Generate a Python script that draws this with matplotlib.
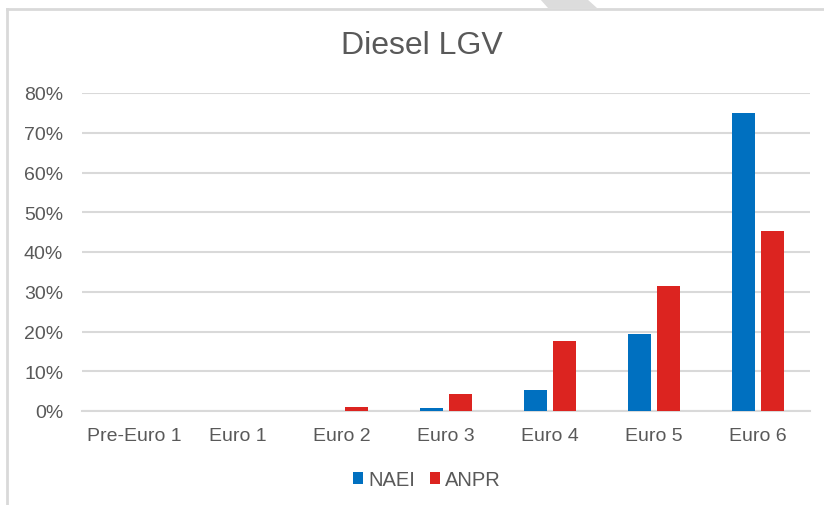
import numpy as np
import matplotlib.pyplot as plt
from matplotlib.lines import Line2D
from matplotlib.patches import Polygon


# --------------------------------------------------
# Data
# --------------------------------------------------

categories = ["Pre-Euro 1", "Euro 1", "Euro 2", "Euro 3", "Euro 4", "Euro 5", "Euro 6"]

naei = [0.0, 0.0, 0.0005, 0.0075, 0.053, 0.194, 0.750]
anpr = [0.0, 0.0, 0.010, 0.044, 0.177, 0.315, 0.452]

y_ticks = [0.0, 0.1, 0.2, 0.3, 0.4, 0.5, 0.6, 0.7, 0.8]
y_tick_labels = ["0%", "10%", "20%", "30%", "40%", "50%", "60%", "70%", "80%"]


# --------------------------------------------------
# Style
# --------------------------------------------------

plt.rcParams["font.family"] = ["Liberation Sans", "DejaVu Sans"]

text_grey = "#595959"
grid_grey = "#D9D9D9"
blue = "#0070C0"
red = "#DC2420"

W, H = 824, 506

fig = plt.figure(figsize=(W / 100, H / 100), dpi=100)

ax = fig.add_axes([
    82 / W,
    1 - 412 / H,
    (810 - 82) / W,
    (412 - 94) / H
])

x = np.arange(len(categories))
bar_w = 0.22
gap = 0.06

ax.bar(
    x - (bar_w + gap) / 2,
    naei,
    width=bar_w,
    color=blue,
    label="NAEI",
    zorder=3
)

ax.bar(
    x + (bar_w + gap) / 2,
    anpr,
    width=bar_w,
    color=red,
    label="ANPR",
    zorder=3
)

ax.set_xlim(-0.5, len(categories) - 0.5)
ax.set_ylim(0, 0.8)

ax.set_yticks(y_ticks)
ax.set_yticklabels(y_tick_labels)
ax.set_xticks(x)
ax.set_xticklabels(categories)

ax.tick_params(axis="y", length=0, pad=13.5, labelsize=14, labelcolor=text_grey)
ax.tick_params(axis="x", length=0, pad=11.5, labelsize=14, labelcolor=text_grey)

ax.grid(axis="y", color=grid_grey, linewidth=1.5, zorder=0)

for side in ["top", "right", "left"]:
    ax.spines[side].set_visible(False)

ax.spines["bottom"].set_color(grid_grey)
ax.spines["bottom"].set_linewidth(1.5)
ax.spines["bottom"].set_zorder(1)

# --------------------------------------------------
# Title and legend
# --------------------------------------------------

fig.text(
    422 / W,
    1 - 46 / H,
    "Diesel LGV",
    ha="center",
    va="center",
    fontsize=23,
    color=text_grey
)

fig.legend(
    loc="center",
    bbox_to_anchor=(427 / W, 1 - 481 / H),
    ncol=2,
    frameon=False,
    fontsize=14.5,
    handlelength=0.5,
    handleheight=0.55,
    handletextpad=0.25,
    columnspacing=0.75,
    borderpad=0.2,
    labelcolor=text_grey
)

# --------------------------------------------------
# Chart border and page decoration
# --------------------------------------------------

fig.add_artist(Line2D([7 / W, 7 / W], [0, 1 - 10 / H], color=grid_grey, linewidth=2))
fig.add_artist(Line2D([7 / W, 1], [1 - 10 / H, 1 - 10 / H], color=grid_grey, linewidth=2))

fig.add_artist(Polygon(
    [[540 / W, 1], [587 / W, 1], [597 / W, 1 - 9 / H], [548 / W, 1 - 9 / H]],
    closed=True,
    facecolor="#DCDCDC",
    edgecolor="none",
    transform=fig.transFigure
))

fig.savefig("out.png", dpi=100)
